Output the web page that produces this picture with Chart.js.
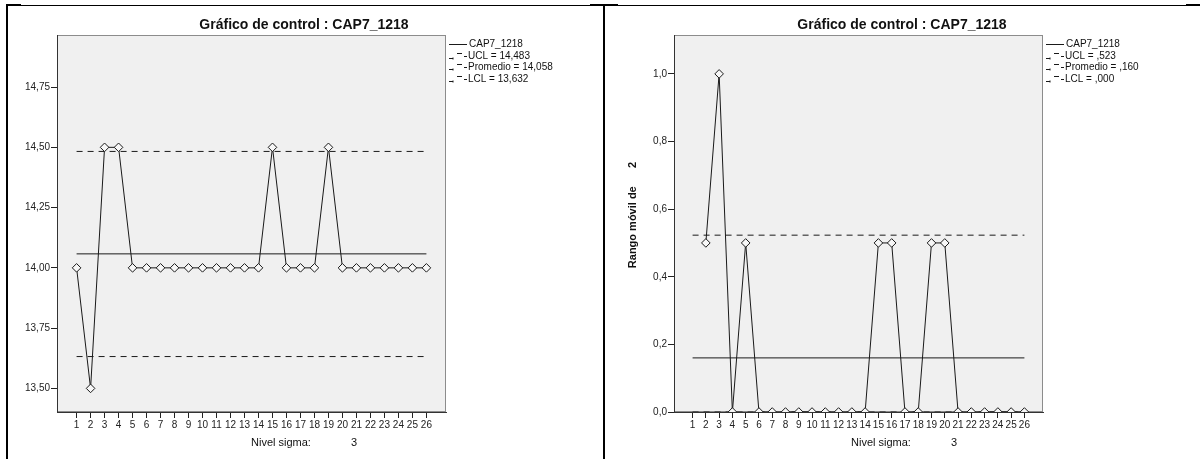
<!DOCTYPE html>
<html>
<head>
<meta charset="utf-8">
<title>Gráfico de control : CAP7_1218</title>
<script src="https://cdn.jsdelivr.net/npm/chart.js@4.4.1/dist/chart.umd.min.js"></script>
<style>
    body { margin: 0; background: #fff; }
    #page { position: relative; width: 1200px; height: 459px; overflow: hidden; }
    .cell { position: absolute; top: 0; width: 600px; height: 459px; }
    .rule { position: absolute; background: #000; z-index: 2; }
</style>
</head>
<body>
<div id="page">
    <div class="cell" style="left:0"><canvas id="valuesChart" width="600" height="459"></canvas></div>
    <div class="cell" style="left:600px"><canvas id="rangeChart" width="600" height="459"></canvas></div>
    <!-- table borders -->
    <div class="rule" style="left:6px; top:5px; width:1194px; height:1px"></div>
    <div class="rule" style="left:6px; top:4px; width:15px; height:2px"></div>
    <div class="rule" style="left:590px; top:4px; width:28px; height:2px"></div>
    <div class="rule" style="left:1186px; top:4px; width:14px; height:2px"></div>
    <div class="rule" style="left:6px; top:5px; width:2px; height:454px"></div>
    <div class="rule" style="left:603px; top:5px; width:2px; height:454px"></div>
</div>
<script>
const samples = [1, 2, 3, 4, 5, 6, 7, 8, 9, 10, 11, 12, 13, 14, 15, 16, 17, 18, 19, 20, 21, 22, 23, 24, 25, 26];
const cap7 = [14.0, 13.5, 14.5, 14.5, 14.0, 14.0, 14.0, 14.0, 14.0, 14.0, 14.0, 14.0, 14.0, 14.0,
              14.5, 14.0, 14.0, 14.0, 14.5, 14.0, 14.0, 14.0, 14.0, 14.0, 14.0, 14.0];
const movingRange = [null, 0.5, 1.0, 0.0, 0.5, 0.0, 0.0, 0.0, 0.0, 0.0, 0.0, 0.0, 0.0, 0.0,
                     0.5, 0.5, 0.0, 0.0, 0.5, 0.5, 0.0, 0.0, 0.0, 0.0, 0.0, 0.0];
const limitNames = ["UCL", "Promedio", "LCL"];
const valueLimits = [14.483, 14.058, 13.632];
const rangeLimits = [0.523, 0.160, 0.000];
const valueTicks = [13.5, 13.75, 14.0, 14.25, 14.5, 14.75];
const rangeTicks = [0.0, 0.2, 0.4, 0.6, 0.8, 1.0];

const FONT = "'Liberation Sans', Arial, sans-serif";
const INK = "#1a1a1a";
Chart.defaults.font.family = FONT;
Chart.defaults.color = "#222";

// SPSS style number: comma decimals, no leading zero
function spssNumber(v) {
    let s = v.toFixed(3).replace(".", ",");
    if (s.startsWith("0,")) s = s.slice(1);
    return s;
}

function buildChart(id, series, limits, cfg) {
    const first = samples[0], last = samples[samples.length - 1];
    const limitSets = limits.map((v, i) => ({
        label: limitNames[i] + " = " + spssNumber(v),
        data: [{ x: first, y: v }, { x: last, y: v }],
        borderColor: INK,
        borderWidth: 1,
        borderDash: i === 1 ? [] : [6, 5],
        pointRadius: 0,
        fill: false
    }));

    const decorations = {
        id: "decorations",
        beforeDraw(chart) {
            const a = chart.chartArea, ctx = chart.ctx;
            ctx.save();
            ctx.fillStyle = "#f0f0f0";
            ctx.fillRect(a.left, a.top, a.right - a.left, a.bottom - a.top);
            ctx.strokeStyle = "#8c8c8c";
            ctx.lineWidth = 1;
            ctx.strokeRect(a.left + 0.5, a.top + 0.5, a.right - a.left - 1, a.bottom - a.top - 1);
            ctx.restore();
        },
        afterDraw(chart) {
            const a = chart.chartArea, ctx = chart.ctx;
            ctx.save();
            ctx.fillStyle = "#111";
            ctx.textBaseline = "middle";

            // title
            ctx.font = "bold 14px " + FONT;
            ctx.textAlign = "center";
            ctx.fillText("Gráfico de control : CAP7_1218", cfg.titleX, 25);

            // legend at the right of the plot
            ctx.font = "10px " + FONT;
            ctx.textAlign = "left";
            ctx.strokeStyle = INK;
            ctx.lineWidth = 1;
            const lx = a.right + 3;
            const rows = ["CAP7_1218"].concat(limitSets.map(d => d.label));
            rows.forEach((txt, i) => {
                const y = Math.round(44 + i * 11.7) + 0.5;
                ctx.beginPath();
                if (i === 0) {
                    ctx.moveTo(lx, y); ctx.lineTo(lx + 18, y);
                } else {
                    ctx.moveTo(lx, y + 2); ctx.lineTo(lx + 4, y + 2);
                    ctx.moveTo(lx + 4, y + 1); ctx.lineTo(lx + 4, y + 3);
                    ctx.moveTo(lx + 8, y - 3); ctx.lineTo(lx + 13, y - 3);
                    ctx.moveTo(lx + 15, y); ctx.lineTo(lx + 18, y);
                }
                ctx.stroke();
                ctx.fillText(i === 0 ? txt : txt, lx + (i === 0 ? 20 : 19), y);
            });

            // sigma level
            ctx.font = "11px " + FONT;
            ctx.fillText("Nivel sigma:", 251, 443);
            ctx.fillText("3", 351, 443);

            // y axis title
            if (cfg.yTitle) {
                ctx.font = "bold 11px " + FONT;
                ctx.textAlign = "center";
                ctx.translate(33, 215);
                ctx.rotate(-Math.PI / 2);
                ctx.fillText(cfg.yTitle, 0, 0);
            }
            ctx.restore();
        }
    };

    return new Chart(document.getElementById(id), {
        type: "line",
        data: {
            datasets: [
                {
                    label: "CAP7_1218",
                    data: samples.map((s, i) => ({ x: s, y: series[i] })),
                    borderColor: INK,
                    borderWidth: 1,
                    pointStyle: "rectRot",
                    pointRadius: 4.3,
                    pointBorderColor: INK,
                    pointBackgroundColor: "#f7f7f7",
                    pointBorderWidth: 1,
                    spanGaps: false,
                    clip: 0
                },
                ...limitSets
            ]
        },
        options: {
            responsive: false,
            animation: false,
            layout: { padding: { left: 0, top: 35, right: cfg.padRight, bottom: 0 } },
            plugins: { legend: { display: false }, tooltip: { enabled: false } },
            scales: {
                x: {
                    type: "linear",
                    min: -0.4,
                    max: 27.4,
                    afterBuildTicks: s => { s.ticks = samples.map(v => ({ value: v })); },
                    afterFit: s => { s.height = 47; },
                    grid: { drawOnChartArea: false, tickLength: 6, color: "#222" },
                    border: { color: "#333" },
                    ticks: {
                        padding: 1, autoSkip: false, maxRotation: 0,
                        font: { size: 10 }, color: "#222",
                        callback: v => String(v)
                    }
                },
                y: {
                    min: cfg.yMin,
                    max: cfg.yMax,
                    afterBuildTicks: s => { s.ticks = cfg.ticks.map(v => ({ value: v })); },
                    afterFit: s => { s.width = cfg.axisWidth; },
                    grid: { drawOnChartArea: false, tickLength: 6, color: "#222" },
                    border: { color: "#333" },
                    ticks: {
                        padding: 1, font: { size: 10 }, color: "#222",
                        callback: v => v.toFixed(cfg.digits).replace(".", ",")
                    }
                }
            }
        },
        plugins: [decorations]
    });
}

document.addEventListener("DOMContentLoaded", function () {
    buildChart("valuesChart", cap7, valueLimits, {
        ticks: valueTicks, yMin: 13.402, yMax: 14.966, digits: 2,
        axisWidth: 57, padRight: 154, titleX: 304
    });
    buildChart("rangeChart", movingRange, rangeLimits, {
        ticks: rangeTicks, yMin: 0, yMax: 1.115, digits: 1,
        axisWidth: 74, padRight: 157, titleX: 302,
        yTitle: "Rango móvil de      2"
    });
});
</script>
</body>
</html>
